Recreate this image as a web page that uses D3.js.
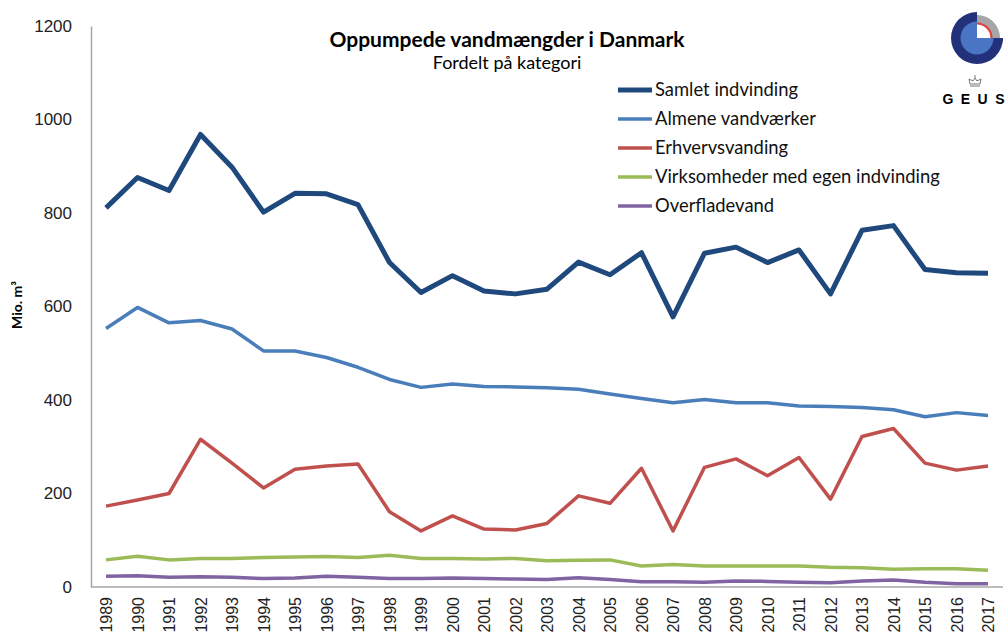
<!DOCTYPE html>
<html>
<head>
<meta charset="utf-8">
<script src="https://cdn.jsdelivr.net/npm/d3@7"></script>
<style>
  body { margin: 0; background: #fff; }
  svg { font-family: Lato, "Open Sans", sans-serif; }
  .tick text { fill: #222; }
</style>
</head>
<body>
<svg class="canvas" width="1008" height="637"></svg>
<script>
// data (mio. m3)
var years = d3.range(1989, 2018);
var yTicks = [0, 200, 400, 600, 800, 1000, 1200];

var samlet = [811, 876, 848, 968, 898, 802, 842, 841, 818, 694, 630, 666, 633, 627, 637,
              695, 668, 715, 578, 714, 727, 694, 721, 627, 763, 773, 679, 672, 671];
var almene = [553, 598, 565, 570, 552, 505, 505, 491, 470, 444, 427, 434, 429, 428, 426,
              423, 413, 403, 394, 401, 394, 394, 387, 386, 384, 379, 364, 373, 367];
var erhverv = [173, 186, 200, 316, 265, 212, 252, 259, 263, 161, 120, 152, 124, 122, 136,
               195, 179, 254, 120, 256, 274, 238, 277, 188, 322, 339, 265, 250, 259];
var virksomheder = [58, 66, 58, 61, 61, 63, 64, 65, 63, 68, 61, 61, 60, 61, 56,
                    57, 58, 45, 48, 45, 45, 45, 45, 42, 41, 38, 39, 39, 36];
var overflade = [23, 24, 21, 22, 21, 18, 19, 23, 21, 18, 18, 19, 18, 17, 16,
                 20, 16, 11, 11, 10, 13, 12, 10, 9, 13, 15, 10, 7, 7];

var seriesNames = ['Samlet indvinding', 'Almene vandværker', 'Erhvervsvanding',
                   'Virksomheder med egen indvinding', 'Overfladevand'];
var seriesValues = [samlet, almene, erhverv, virksomheder, overflade];
var seriesColors = ['#1f497d', '#4a7ebb', '#c0504d', '#9bbb59', '#8064a2'];
var seriesWidths = [5, 3.5, 3.5, 3.5, 3.5];

var svg = d3.select('.canvas');

var x = d3.scaleLinear().domain([1989, 2017]).range([106, 988]);
var y = d3.scaleLinear().domain([0, 1200]).range([587, 26]);

// axes
var yAxis = svg.append('g')
    .attr('transform', 'translate(91,0)')
    .call(d3.axisLeft(y).tickValues(yTicks).tickFormat(d3.format('d')).tickSize(0).tickPadding(19));
yAxis.select('.domain').attr('stroke', '#a6a6a6').attr('stroke-width', 1.5);
yAxis.selectAll('text').attr('font-size', 17);

svg.append('line')
    .attr('x1', 91).attr('x2', 1003)
    .attr('y1', y(0)).attr('y2', y(0))
    .attr('stroke', '#a6a6a6').attr('stroke-width', 1.5);

var xAxis = svg.append('g')
    .attr('transform', 'translate(0,' + y(0) + ')')
    .call(d3.axisBottom(x).tickValues(years).tickFormat(d3.format('d')).tickSize(0));
xAxis.select('.domain').remove();
xAxis.selectAll('text')
    .attr('font-size', 16)
    .attr('text-anchor', 'end')
    .attr('dy', '0.35em')
    .attr('transform', 'translate(0,10) rotate(-90)')
    .attr('x', 0).attr('y', 0);

// y label
svg.append('text')
    .attr('transform', 'translate(22,305) rotate(-90)')
    .attr('text-anchor', 'middle')
    .attr('font-size', 14).attr('font-weight', 'bold')
    .text('Mio. m³');

// lines
var line = d3.line()
    .x(function(d, i){ return x(years[i]); })
    .y(function(d){ return y(d); });

seriesValues.slice().reverse().forEach(function(vals, j){
    var i = seriesValues.length - 1 - j;
    svg.append('path')
        .datum(vals)
        .attr('fill', 'none')
        .attr('stroke', seriesColors[i])
        .attr('stroke-width', seriesWidths[i])
        .attr('stroke-linejoin', 'round')
        .attr('d', line);
});

// title
svg.append('text')
    .attr('x', 507).attr('y', 47)
    .attr('text-anchor', 'middle')
    .attr('font-size', 21).attr('font-weight', 'bold')
    .text('Oppumpede vandmængder i Danmark');
svg.append('text')
    .attr('x', 507).attr('y', 69)
    .attr('text-anchor', 'middle')
    .attr('font-size', 18)
    .text('Fordelt på kategori');

// legend
var legend = svg.append('g').attr('transform', 'translate(618,90)');
seriesNames.forEach(function(name, i){
    var row = legend.append('g').attr('transform', 'translate(0,' + (i * 29) + ')');
    row.append('line')
        .attr('x1', 0).attr('x2', 34)
        .attr('stroke', seriesColors[i])
        .attr('stroke-width', seriesWidths[i]);
    row.append('text')
        .attr('x', 37).attr('dy', '0.35em')
        .attr('font-size', 18.4)
        .attr('fill', '#111')
        .text(name);
});

// GEUS logo
var logo = svg.append('g').attr('transform', 'translate(977,38)');
var arc = d3.arc();
logo.append('path')
    .attr('fill', '#23307a')
    .attr('d', arc({innerRadius: 15, outerRadius: 26, startAngle: Math.PI / 2, endAngle: 2 * Math.PI}));
logo.append('path')
    .attr('fill', '#23307a')
    .attr('d', 'M0,0 L26,0 L26,3 L0,3 Z');
logo.append('path')
    .attr('fill', '#a6a6a6')
    .attr('d', arc({innerRadius: 15, outerRadius: 23, startAngle: 0, endAngle: Math.PI / 2}));
logo.append('path')
    .attr('fill', '#4a74c4')
    .attr('d', arc({innerRadius: 0, outerRadius: 16.5, startAngle: Math.PI / 2, endAngle: 2 * Math.PI}));
logo.append('path')
    .attr('fill', '#e53935')
    .attr('d', arc({innerRadius: 13.5, outerRadius: 15.5, startAngle: 0, endAngle: Math.PI / 2}));

var crown = svg.append('g').attr('transform', 'translate(975,84)')
    .attr('fill', 'none').attr('stroke', '#777').attr('stroke-width', 1);
crown.append('path').attr('d', 'M-5,0 L-6,-5 L-2,-3 L0,-6 L2,-3 L6,-5 L5,0 Z');
crown.append('line').attr('x1', -5).attr('x2', 5).attr('y1', 2).attr('y2', 2);
crown.append('line').attr('x1', 0).attr('x2', 0).attr('y1', -9).attr('y2', -6);

// logo letters, spaced out one by one
var geus = 'GEUS'.split('');
svg.selectAll('.geus').data(geus).enter().append('text')
    .classed('geus', true)
    .attr('x', function(d, i){ return 948 + i * 17.3; })
    .attr('y', 104)
    .attr('text-anchor', 'middle')
    .attr('font-family', '"Liberation Sans", Arial, sans-serif')
    .attr('font-size', 14).attr('font-weight', 'bold')
    .text(function(d){ return d; });
</script>
</body>
</html>
